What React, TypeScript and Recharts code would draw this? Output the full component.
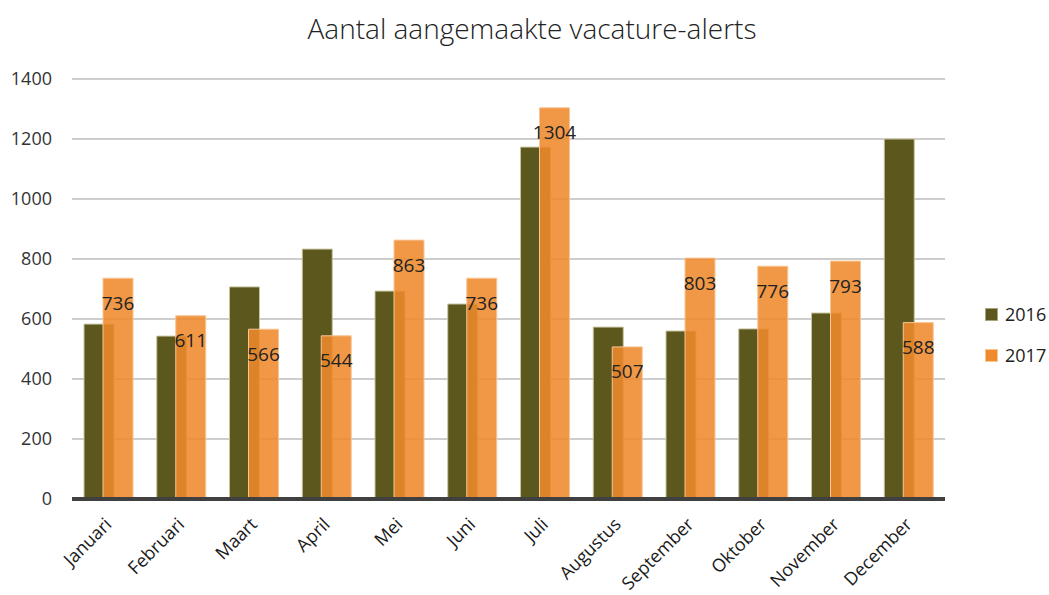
import React from 'react';
import { BarChart, Bar, XAxis, YAxis, CartesianGrid, LabelList } from 'recharts';

const months = [
  'Januari', 'Februari', 'Maart', 'April', 'Mei', 'Juni',
  'Juli', 'Augustus', 'September', 'Oktober', 'November', 'December',
];
const alerts2016 = [583, 543, 707, 833, 693, 650, 1173, 573, 560, 567, 620, 1200];
const alerts2017 = [736, 611, 566, 544, 863, 736, 1304, 507, 803, 776, 793, 588];
const yTicks = [0, 200, 400, 600, 800, 1000, 1200, 1400];

const OLIVE = '#5c581d';
const ORANGE = '#ef8a2d';
const FONT = '"Open Sans", "Noto Sans", sans-serif';

const data = months.map((m, i) => ({ month: m, y2016: alerts2016[i], y2017: alerts2017[i] }));

const MonthTick = (props: any) => {
  const { x, y, payload } = props;
  return (
    <g transform={`translate(${x},${y + 14})`}>
      <text transform="rotate(-45)" textAnchor="end" dy="0.35em" fontSize={18} fill="#1a1a1a" fontFamily={FONT}>
        {payload.value}
      </text>
    </g>
  );
};

export default function App() {
  return (
    <div style={{ position: 'relative', width: 1049, height: 595, background: '#fff', overflow: 'hidden' }}>
      <style>{'html,body{margin:0;padding:0;overflow:hidden;}'}</style>
      <div
        style={{
          position: 'absolute', top: 9, left: 0, width: 1064, textAlign: 'center',
          fontFamily: FONT, fontWeight: 300, fontSize: 28, color: '#222',
        }}
      >
        Aantal aangemaakte vacature-alerts
      </div>
      <BarChart
        width={1049}
        height={595}
        data={data}
        margin={{ top: 79, right: 104, bottom: 0, left: 0 }}
        barSize={30}
        barGap={-11}
        style={{ overflow: 'visible' }}
      >
        <CartesianGrid vertical={false} stroke="#bdbdbd" strokeWidth={1.5} />
        <XAxis
          dataKey="month"
          height={96}
          interval={0}
          tick={<MonthTick />}
          tickLine={false}
          axisLine={{ stroke: '#404040', strokeWidth: 4 }}
        />
        <YAxis
          width={72}
          domain={[0, 1400]}
          ticks={yTicks}
          tickLine={false}
          tickSize={0}
          tickMargin={20}
          axisLine={false}
          tick={{ fontSize: 18, fill: '#333', fontFamily: FONT }}
        />
        <Bar dataKey="y2016" name="2016" fill={OLIVE} stroke="#c8c4a0" strokeWidth={1} isAnimationActive={false} />
        <Bar
          dataKey="y2017"
          name="2017"
          fill={ORANGE}
          fillOpacity={0.88}
          stroke="#f8c594"
          strokeWidth={1}
          isAnimationActive={false}
        >
          <LabelList dataKey="y2017" position="insideTop" offset={18} fontSize={19} fill="#222" fontFamily={FONT} />
        </Bar>
      </BarChart>
      <div style={{ position: 'absolute', left: 985, top: 300, fontFamily: FONT, fontSize: 18, color: '#222', whiteSpace: 'nowrap' }}>
        {[{ label: '2016', color: OLIVE, border: '#a8a47e' }, { label: '2017', color: ORANGE, border: '#f8c594' }].map((it, i) => (
          <div key={it.label} style={{ display: 'flex', alignItems: 'center', height: 28, marginBottom: i === 0 ? 13 : 0 }}>
            <span style={{ width: 11, height: 11, background: it.color, border: `1px solid ${it.border}`, marginRight: 7, flexShrink: 0 }} />
            {it.label}
          </div>
        ))}
      </div>
    </div>
  );
}
